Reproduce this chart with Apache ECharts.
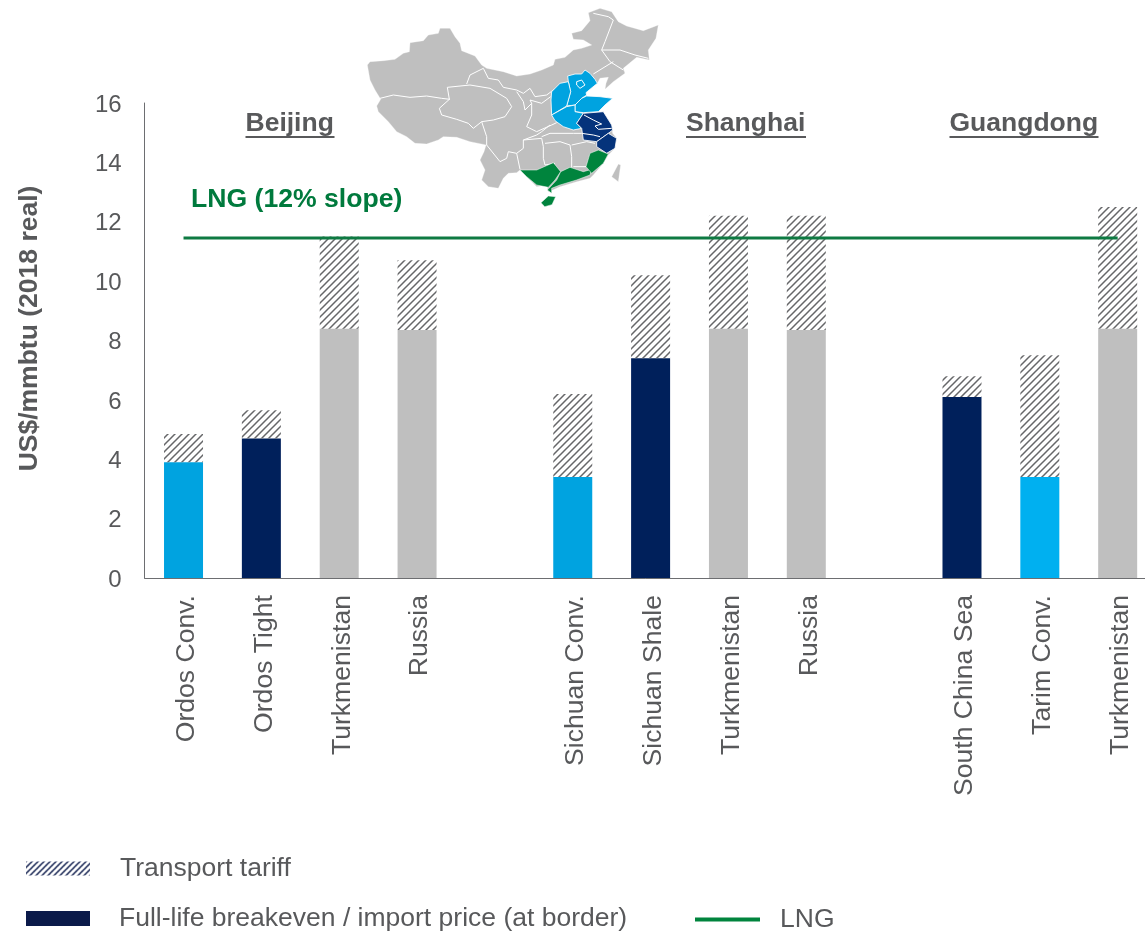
<!DOCTYPE html>
<html>
<head>
<meta charset="utf-8">
<style>html,body{margin:0;padding:0;background:#fff}#c{width:1145px;height:932px}</style>
<script src="https://cdn.jsdelivr.net/npm/echarts@6/dist/echarts.min.js"></script>
</head>
<body>
<div id="c"></div>
<script>
const categories = ['Ordos Conv.','Ordos Tight','Turkmenistan','Russia','','Sichuan Conv.','Sichuan Shale','Turkmenistan','Russia','','South China Sea','Tarim Conv.','Turkmenistan'];
const breakeven = [3.9,4.7,8.4,8.35,null,3.4,7.4,8.4,8.35,null,6.1,3.4,8.4];
const tariff = [0.95,0.95,3.1,2.35,null,2.8,2.8,3.8,3.85,null,0.7,4.1,4.1];
const lng = [11.45,11.45,11.45,11.45,11.45,11.45,11.45,11.45,11.45,11.45,11.45,11.45,11.45];
const barColors = ['#00a3e0','#00205b','#bfbfbf','#bfbfbf',null,'#00a3e0','#00205b','#bfbfbf','#bfbfbf',null,'#00205b','#00b0f0','#bfbfbf'];
const regionLabels = ['Beijing','Shanghai','Guangdong'];

const GREY='#58595b', FONT='"Liberation Sans",Arial,sans-serif';

function hatch(color,size,w){
  const c=document.createElement('canvas');c.width=c.height=size;
  const x=c.getContext('2d');x.strokeStyle=color;x.lineWidth=w;
  x.beginPath();
  x.moveTo(-1,size+1);x.lineTo(size+1,-1);
  x.moveTo(-1,1);x.lineTo(1,-1);
  x.moveTo(size-1,size+1);x.lineTo(size+1,size-1);
  x.stroke();return c;
}

// Locator map outlines (schematic, in a 3x drawing space)
const mapChina=[[22,195],[30,185],[70,182],[105,178],[130,160],[148,155],[150,128],[190,122],[205,105],[235,100],[240,85],[270,85],[285,110],[300,130],[305,152],[345,168],[365,195],[380,205],[430,215],[470,228],[510,222],[545,210],[580,195],[585,178],[615,172],[640,150],[665,145],[695,135],[670,120],[640,118],[635,100],[665,92],[690,62],[685,38],[720,25],[755,35],[775,65],[800,78],[850,92],[895,75],[888,115],[865,150],[868,180],[830,172],[790,205],[795,220],[760,245],[735,268],[738,250],[745,232],[720,235],[712,250],[690,268],[678,278],[680,288],[720,290],[758,295],[735,310],[720,325],[700,340],[730,335],[755,375],[758,400],[770,415],[765,445],[745,465],[730,490],[700,525],[690,535],[650,545],[600,560],[578,570],[565,575],[560,555],[530,560],[500,530],[480,510],[470,518],[445,520],[430,535],[415,565],[385,560],[365,540],[375,510],[360,480],[372,455],[378,435],[330,425],[290,412],[250,410],[235,420],[200,432],[165,430],[140,410],[110,395],[85,365],[55,335],[50,318],[62,298],[45,270],[30,240]];
const shift=p=>p.map(([x,y])=>[x+540,y+150]);
const mapTaiwan=shift([[215,380],[235,342],[242,345],[235,395]]);
const mapBlue=[
 [[83,78],[105,72],[125,72],[135,60],[150,70],[165,88],[172,100],[150,118],[138,128],[140,135],[125,145],[105,165],[80,168],[85,150],[92,125],[85,95]],
 [[35,125],[60,100],[85,95],[92,125],[85,150],[80,168],[35,195],[33,150]],
 [[105,165],[125,145],[140,138],[180,140],[218,145],[195,165],[175,185],[130,188],[105,185]],
 [[35,195],[80,170],[105,165],[105,185],[130,190],[110,220],[125,235],[100,240],[70,230],[45,212]]
].map(shift);
const mapNavy=[
 [[110,220],[130,190],[190,185],[215,225],[218,240],[205,250],[170,275],[130,270],[125,235]],
 [[170,275],[205,250],[230,265],[225,295],[200,310],[170,290]]
].map(shift);
const mapGreen=[
 [[-60,360],[-10,360],[40,338],[50,350],[62,365],[45,390],[25,412],[-10,405],[-40,380]],
 [[62,365],[90,352],[130,365],[155,358],[150,375],[110,390],[60,405],[35,415],[35,430],[22,420],[50,390]],
 [[138,350],[150,310],[175,300],[205,312],[190,340],[155,370]],
 [[3,458],[25,438],[47,440],[36,464],[14,470]]
].map(shift);
const mapLines=[
 [[60,295],[100,285],[150,292],[200,288],[245,295],[270,298]],
 [[262,262],[330,255],[390,265],[440,295],[455,320],[435,350],[400,360],[365,365],[340,385],[325,370],[290,358],[245,345],[238,325],[268,298],[262,262]],
 [[320,252],[330,225],[370,205],[385,235],[415,240],[430,262],[470,270],[490,280],[510,265],[525,290],[560,285],[580,270],[600,258]],
 [[470,275],[490,305],[495,330],[515,310],[510,300],[545,310],[572,290]],
 [[515,310],[515,345],[500,380],[530,395],[575,375],[590,368]],
 [[365,365],[380,410],[380,435],[420,485],[440,475],[445,455],[470,460],[490,445],[490,420],[530,405],[545,395],[570,375]],
 [[490,420],[545,415],[550,440],[550,475],[555,495],[585,490]],
 [[470,460],[480,508]],
 [[555,430],[600,425],[630,435],[635,470],[635,503]],
 [[635,435],[680,425],[705,430]],
 [[680,500],[640,500]],
 [[545,410],[570,400],[640,400],[665,400]],
 [[735,125],[760,60],[745,50],[700,40]],
 [[725,150],[780,150],[825,165],[865,175]],
 [[735,125],[725,150],[750,185],[790,210]],
 [[700,222],[760,185]]
];
const mapInner=[
 [[650,245],[665,240],[675,255],[660,265],[650,255],[650,245]],
 [[672,345],[700,360],[725,372],[705,378],[715,388],[755,385]],
 [[665,400],[700,405],[720,410]]
];
const poly=(points,fill,w=3)=>({type:'polygon',shape:{points},style:{fill,stroke:'#fff',lineWidth:w,lineJoin:'round'}});
const pline=(points)=>({type:'polyline',shape:{points},style:{stroke:'#fff',lineWidth:3,fill:null}});
const mapChildren=[poly(mapChina,'#bfbfbf',1),poly(mapTaiwan,'#bfbfbf',1),
  ...mapLines.map(pline),
  ...mapBlue.map(p=>poly(p,'#00a3e0',2.5)),...mapNavy.map(p=>poly(p,'#05337b',2.5)),...mapGreen.map(p=>poly(p,'#00843d',1.5)),
  ...mapInner.map(pline)];

const chart=echarts.init(document.getElementById('c'),null,{renderer:'canvas'});
const tariffPattern={image:hatch('#666769',7,1.5),repeat:'repeat'};
const legendPattern={image:hatch('#0b1a4a',6,1.4),repeat:'repeat'};
const legendBase={color:GREY,fontSize:26.5,fontFamily:FONT};
const regionX=[290,746,1024];

function heading(label,x){
  const w={Beijing:89,Shanghai:120,Guangdong:149}[label];
  return [
    {type:'text',left:x-w/2,top:110,z:10,style:{text:label,fill:GREY,font:'bold 26.5px '+FONT}},
    {type:'rect',left:x-w/2,top:136,z:10,shape:{width:w,height:2},style:{fill:GREY}}
  ];
}

chart.setOption({
  animation:false,
  backgroundColor:'#fff',
  textStyle:{fontFamily:FONT},
  grid:{left:144.6,top:103,width:1012,height:475,containLabel:false,outerBoundsMode:'none'},
  xAxis:{type:'category',data:categories,
    axisLine:{lineStyle:{color:'#6d6e71',width:1}},axisTick:{show:false},
    axisLabel:{rotate:90,interval:0,margin:17,formatter:'{a|{value}}',
      rich:{a:{fontSize:26.6,color:GREY,fontFamily:FONT,padding:[6,0,0,0]}}}},
  yAxis:{type:'value',min:0,max:16,interval:2,
    name:'US$/mmbtu (2018 real)',nameLocation:'middle',nameGap:101,
    nameTextStyle:{fontSize:26.5,fontWeight:'bold',color:GREY,fontFamily:FONT,padding:[0,0,0,24]},
    axisLine:{show:true,lineStyle:{color:'#6d6e71',width:1}},axisTick:{show:false},splitLine:{show:false},
    axisLabel:{margin:23,formatter:'{a|{value}}',
      rich:{a:{fontSize:24,color:GREY,fontFamily:FONT,padding:[4,0,0,0]}}}},
  legend:[
    {left:26,top:855,padding:0,data:['Transport tariff'],icon:'rect',itemWidth:64,itemHeight:14,
      textStyle:{...legendBase,padding:[0,0,0,25]},itemStyle:{color:legendPattern},selectedMode:false},
    {left:26,top:905,padding:0,data:['Full-life breakeven / import price (at border)'],icon:'rect',itemWidth:64,itemHeight:15,
      textStyle:{...legendBase,padding:[0,0,0,24]},selectedMode:false},
    {left:695,top:906,padding:0,data:['LNG'],icon:'rect',itemWidth:65,itemHeight:4,
      textStyle:{...legendBase,padding:[0,0,0,15]},selectedMode:false}
  ],
  series:[
    {name:'Full-life breakeven / import price (at border)',type:'bar',stack:'a',barWidth:39,
      itemStyle:{color:'#0b1a4a'},
      data:breakeven.map((v,i)=>v==null?null:{value:v,itemStyle:{color:barColors[i]}})},
    {name:'Transport tariff',type:'bar',stack:'a',barWidth:39,
      itemStyle:{color:tariffPattern},data:tariff},
    {name:'LNG',type:'line',data:lng,symbol:'none',showSymbol:false,z:5,
      lineStyle:{color:'#0e7a42',width:3},itemStyle:{color:'#00843d'}}
  ],
  graphic:[
    {type:'group',x:360,y:0,scaleX:1/3,scaleY:1/3,z:8,children:mapChildren},
    ...regionLabels.flatMap((l,i)=>heading(l,regionX[i])),
    {type:'text',left:191,top:186,z:10,style:{text:'LNG (12% slope)',fill:'#007a3d',font:'bold 26.6px '+FONT}}
  ]
});
</script>
</body>
</html>
